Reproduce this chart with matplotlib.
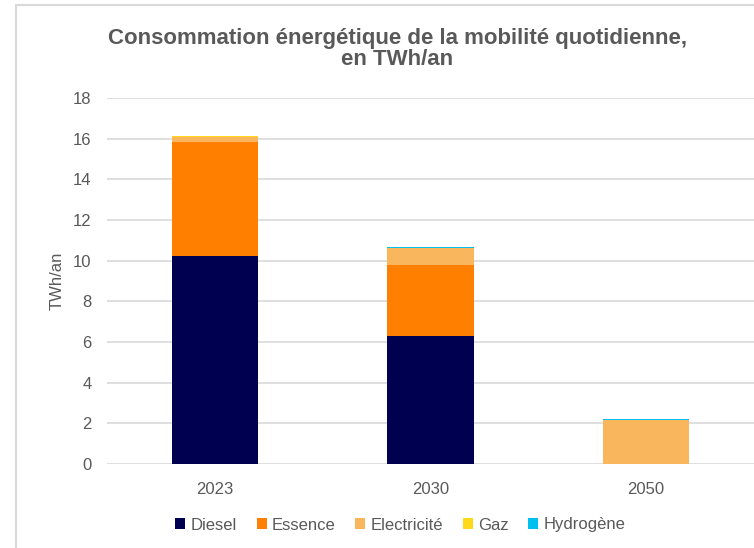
import matplotlib.pyplot as plt
import numpy as np
from matplotlib.lines import Line2D

years = ['2023', '2030', '2050']
diesel = [10.23, 6.30, 0.0]
essence = [5.63, 3.49, 0.0]
electricite = [0.22, 0.82, 2.17]
gaz = [0.07, 0.02, 0.0]
hydrogene = [0.0, 0.04, 0.04]

series = [
    ('Diesel', diesel, '#000050'),
    ('Essence', essence, '#FF8000'),
    ('Electricité', electricite, '#F9B65C'),
    ('Gaz', gaz, '#FFD81A'),
    ('Hydrogène', hydrogene, '#00C0F0'),
]

text_col = '#595959'
grid_col = '#D9D9D9'

plt.rcParams['font.family'] = ['Liberation Sans', 'DejaVu Sans']

fig = plt.figure(figsize=(7.54, 5.48), dpi=100)
ax = fig.add_axes([107 / 754, 1 - 464 / 548, 647 / 754, 366 / 548])

x = np.arange(len(years))
bottom = np.zeros(len(years))
for name, vals, col in series:
    ax.bar(x, vals, width=0.4, bottom=bottom, color=col, label=name, zorder=3)
    bottom += np.array(vals)

ax.set_xlim(-0.5, len(years) - 0.5)
ax.set_ylim(0, 18)
ax.set_yticks(np.arange(0, 19, 2))
ax.set_xticks(x)
ax.set_xticklabels(years)
ax.yaxis.grid(True, color=grid_col, linewidth=1.2, zorder=0)
for s in ax.spines.values():
    s.set_visible(False)
ax.tick_params(axis='both', length=0, colors=text_col, labelsize=12)
ax.tick_params(axis='y', pad=11)
ax.tick_params(axis='x', pad=13)
ax.set_ylabel('TWh/an', color=text_col, fontsize=12, labelpad=6)

fig.text(0.527, 1 - 49 / 548, 'Consommation énergétique de la mobilité quotidienne,\nen TWh/an',
         ha='center', va='center', fontsize=16, fontweight='bold', color=text_col,
         linespacing=1.0)

# chart frame (cropped on right / bottom)
fig.add_artist(Line2D([16 / 754, 16 / 754], [0, 1 - 5 / 548], transform=fig.transFigure,
                      color=grid_col, linewidth=1.5))
fig.add_artist(Line2D([16 / 754, 1], [1 - 5 / 548, 1 - 5 / 548], transform=fig.transFigure,
                      color=grid_col, linewidth=1.5))

leg = fig.legend(loc='center', bbox_to_anchor=(0.531, 1 - 525 / 548), ncol=5, frameon=False,
                 fontsize=12, handlelength=0.6, handleheight=0.6, handletextpad=0.3,
                 columnspacing=1.2)
for t in leg.get_texts():
    t.set_color(text_col)

fig.savefig('out.png', dpi=100)
